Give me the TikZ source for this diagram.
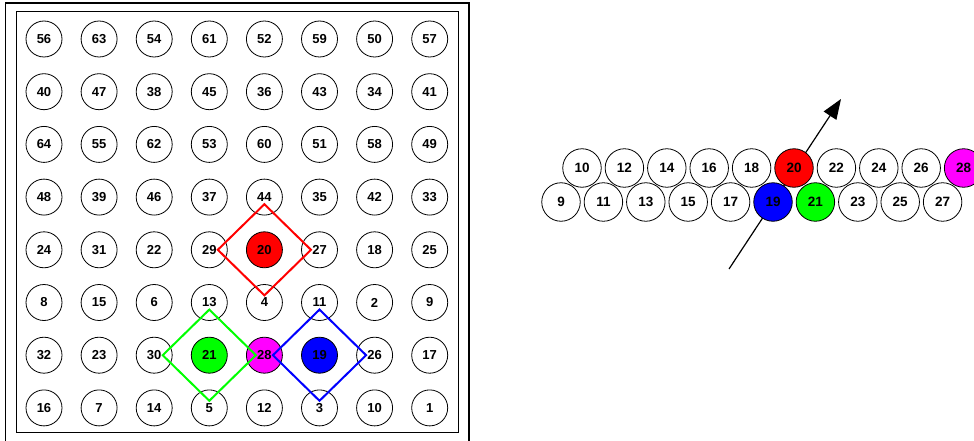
\documentclass[tikz,border=0pt]{standalone}
\usepackage{fontspec}
\setmainfont{Liberation Sans}
\usetikzlibrary{arrows.meta,shapes.geometric,calc}
\definecolor{cred}{RGB}{255,0,0}
\definecolor{cgreen}{RGB}{0,255,0}
\definecolor{cblue}{RGB}{0,0,255}
\definecolor{cmag}{RGB}{255,0,255}
\tikzset{
  ball/.style={circle,draw=black,line width=0.8pt,minimum size=36pt,inner sep=0pt,
    font=\fontsize{13}{15}\selectfont\bfseries,fill=white},
  rball/.style={ball,minimum size=38.5pt,font=\fontsize{13.5}{15}\selectfont\bfseries},
  rhomb/.style={diamond,draw,line width=2pt,minimum width=94pt,minimum height=92pt,inner sep=0pt},
  pointer/.style={line width=1.2pt,-{Triangle[length=20pt,width=15pt]}}
}
\begin{document}
\begin{tikzpicture}[x=1pt,y=-1pt]
\useasboundingbox (0,0) rectangle (974,441);
% frames
\draw[line width=1.3pt] (5.5,3) rectangle (469,445);
\draw[line width=0.8pt] (16,11) rectangle (458,432.5);
% grid
\foreach \r [count=\j from 0] in {
  {56,63,54,61,52,59,50,57},
  {40,47,38,45,36,43,34,41},
  {64,55,62,53,60,51,58,49},
  {48,39,46,37,44,35,42,33},
  {24,31,22,29,20,27,18,25},
  {8,15,6,13,4,11,2,9},
  {32,23,30,21,28,19,26,17},
  {16,7,14,5,12,3,10,1}}{
  \foreach \n [count=\i from 0] in \r {
    \ifnum\n=20 \def\fc{cred}\else\ifnum\n=21 \def\fc{cgreen}\else\ifnum\n=28 \def\fc{cmag}\else\ifnum\n=19 \def\fc{cblue}\else\def\fc{white}\fi\fi\fi\fi
    \node[ball,fill=\fc] (g\n) at (44+55.1*\i,39+52.7*\j) {\n};
  }
}
\node[rhomb,draw=cred] (dr) at (g20) {};
\node[rhomb,draw=cgreen] (dg) at (g21) {};
\node[rhomb,draw=cblue] (db) at (g19) {};
% right part
\coordinate (a0) at (729,269);
\coordinate (a1) at (841,99);
\draw[pointer] (a0) -- (a1);
\foreach \n [count=\i from 0] in {10,12,14,16,18,20,22,24,26,28}{
  \ifnum\n=20 \def\fc{cred}\else\ifnum\n=28 \def\fc{cmag}\else\def\fc{white}\fi\fi
  \node[rball,fill=\fc] (t\n) at (582+42.4*\i,168) {\n};
}
\foreach \n [count=\i from 0] in {9,11,13,15,17,19,21,23,25,27}{
  \ifnum\n=19 \def\fc{cblue}\else\ifnum\n=21 \def\fc{cgreen}\else\def\fc{white}\fi\fi
  \node[rball,fill=\fc] (b\n) at (561+42.4*\i,202) {\n};
}
\end{tikzpicture}
\end{document}
